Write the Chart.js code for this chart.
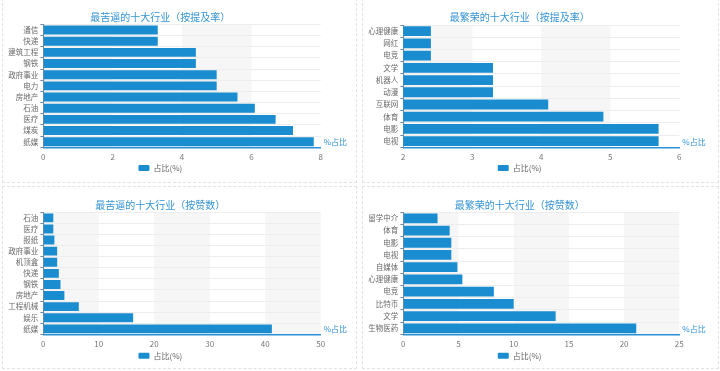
<!DOCTYPE html>
<html>
<head>
<meta charset="utf-8">
<script src="https://cdn.jsdelivr.net/npm/chart.js@4/dist/chart.umd.min.js"></script>
<style>
  body { margin: 0; background: #fff; }
  #wrap { position: relative; width: 720px; height: 371px; overflow: hidden; }
  .box { position: absolute; }
  .frame { position: absolute; border: 1px dashed #e2e2e2; box-sizing: border-box; }
</style>
</head>
<body>
<div id="wrap">
  <div class="frame" style="left:2px;top:-2px;width:355px;height:185px"></div>
  <div class="frame" style="left:362px;top:-2px;width:357px;height:185px"></div>
  <div class="frame" style="left:2px;top:186px;width:355px;height:183px"></div>
  <div class="frame" style="left:362px;top:186px;width:357px;height:183px"></div>
  <div class="box" style="left:0;top:0;width:360px;height:185px"><canvas id="c1"></canvas></div>
  <div class="box" style="left:360px;top:0;width:360px;height:185px"><canvas id="c2"></canvas></div>
  <div class="box" style="left:0;top:185px;width:360px;height:186px"><canvas id="c3"></canvas></div>
  <div class="box" style="left:360px;top:185px;width:360px;height:186px"><canvas id="c4"></canvas></div>
</div>
<script>
// data
const kuRateLabels = ['通信', '快递', '建筑工程', '钢铁', '政府事业', '电力', '房地产', '石油', '医疗', '煤炭', '纸媒'];
const kuRateValues = [3.3, 3.3, 4.4, 4.4, 5.0, 5.0, 5.6, 6.1, 6.7, 7.2, 7.8];
const kuRateTicks = [0, 2, 4, 6, 8];

const fanRateLabels = ['心理健康', '网红', '电竞', '文学', '机器人', '动漫', '互联网', '体育', '电影', '电视'];
const fanRateValues = [2.4, 2.4, 2.4, 3.3, 3.3, 3.3, 4.1, 4.9, 5.7, 5.7];
const fanRateTicks = [2, 3, 4, 5, 6];

const kuLikeLabels = ['石油', '医疗', '报纸', '政府事业', '机顶盒', '快递', '钢铁', '房地产', '工程机械', '娱乐', '纸媒'];
const kuLikeValues = [1.8, 1.8, 2.0, 2.5, 2.5, 2.8, 3.1, 3.8, 6.4, 16.2, 41.2];
const kuLikeTicks = [0, 10, 20, 30, 40, 50];

const fanLikeLabels = ['留学中介', '体育', '电影', '电视', '自媒体', '心理健康', '电竞', '比特币', '文学', '生物医药'];
const fanLikeValues = [3.1, 4.2, 4.35, 4.35, 4.9, 5.35, 8.2, 10.0, 13.8, 21.1];
const fanLikeTicks = [0, 5, 10, 15, 20, 25];

const seriesName = '占比(%)';
const axisName = '%占比';
const barColor = '#1a8dd0';
const titleColor = '#3393d5';

Chart.defaults.font.family = "'Noto Sans CJK SC', 'Noto Sans', sans-serif";
Chart.defaults.animation = false;

// shaded bands between every other x tick, like an echarts splitArea
const bandPlugin = {
  id: 'bands',
  beforeDraw(chart) {
    const xs = chart.scales.x, area = chart.chartArea, ctx = chart.ctx;
    ctx.save();
    ctx.fillStyle = '#f6f6f6';
    for (let i = 0; i < xs.ticks.length - 1; i += 2) {
      const x0 = xs.getPixelForValue(xs.ticks[i].value);
      const x1 = xs.getPixelForValue(xs.ticks[i + 1].value);
      ctx.fillRect(x0, area.top, x1 - x0, area.bottom - area.top);
    }
    ctx.restore();
  },
  afterDraw(chart) {
    const xs = chart.scales.x, ctx = chart.ctx;
    ctx.save();
    ctx.fillStyle = titleColor;
    ctx.font = "8px 'Noto Sans CJK SC'";
    ctx.textBaseline = 'middle';
    ctx.fillText(axisName, xs.right + 3, xs.top - 5);
    ctx.restore();
  }
};

function makeChart(id, title, labels, values, ticks, lay) {
  return new Chart(document.getElementById(id), {
    type: 'bar',
    data: {
      labels: labels,
      datasets: [{
        label: seriesName,
        data: values,
        backgroundColor: barColor,
        borderWidth: 0,
        barPercentage: 0.8,
        categoryPercentage: 1
      }]
    },
    options: {
      indexAxis: 'y',
      responsive: true,
      maintainAspectRatio: false,
      layout: { padding: { left: 0, right: lay.right, top: 0, bottom: lay.bottom } },
      plugins: {
        title: {
          display: true,
          text: title,
          color: titleColor,
          font: { size: 10, weight: 'normal' },
          padding: { top: lay.titleTop, bottom: lay.titleBottom }
        },
        legend: {
          position: 'bottom',
          labels: {
            boxWidth: 11, boxHeight: 6, padding: 2,
            color: '#666', font: { size: 8 },
            useBorderRadius: true, borderRadius: 1
          }
        },
        tooltip: { enabled: false }
      },
      scales: {
        x: {
          min: ticks[0],
          max: ticks[ticks.length - 1],
          ticks: { stepSize: ticks[1] - ticks[0], color: '#777', font: { size: 8 }, padding: 5 },
          grid: { drawOnChartArea: false, drawTicks: false },
          border: { color: '#2a92d4', width: 1.5 },
          afterFit(s) { s.height = lay.xh; }
        },
        y: {
          ticks: { color: '#6a6a6a', font: { size: 7.5 }, padding: 2, autoSkip: false },
          grid: { color: '#ededed', tickColor: '#6d8aa8', tickLength: 3 },
          border: { color: '#6d8aa8', width: 1 },
          afterFit(s) { s.width = 43.3; }
        }
      }
    },
    plugins: [bandPlugin]
  });
}

makeChart('c1', '最苦逼的十大行业（按提及率）', kuRateLabels, kuRateValues, kuRateTicks,
  { right: 39.3, bottom: 3, titleTop: 11, titleBottom: 1.5, xh: 14.7 });
makeChart('c2', '最繁荣的十大行业（按提及率）', fanRateLabels, fanRateValues, fanRateTicks,
  { right: 40.7, bottom: 3, titleTop: 11, titleBottom: 2, xh: 14.7 });
makeChart('c3', '最苦逼的十大行业（按赞数）', kuLikeLabels, kuLikeValues, kuLikeTicks,
  { right: 39.3, bottom: 1.3, titleTop: 14.7, titleBottom: 0.6, xh: 15.3 });
makeChart('c4', '最繁荣的十大行业（按赞数）', fanLikeLabels, fanLikeValues, fanLikeTicks,
  { right: 40.7, bottom: 1.3, titleTop: 14, titleBottom: 1.2, xh: 15.3 });
</script>
</body>
</html>
